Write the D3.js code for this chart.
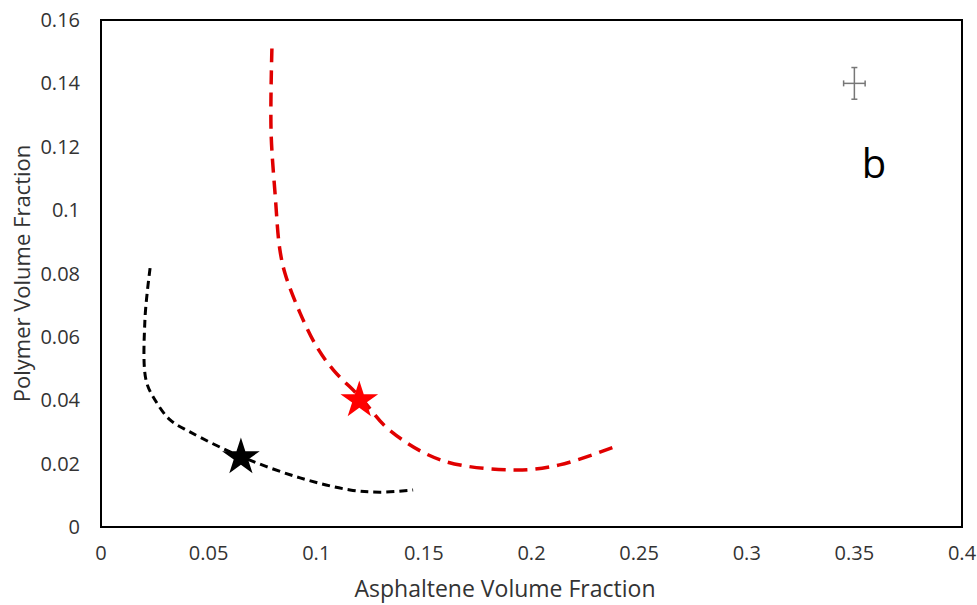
<!DOCTYPE html>
<html>
<head>
<meta charset="utf-8">
<script src="https://cdn.jsdelivr.net/npm/d3@7"></script>
<style>
  body { margin: 0; background: #fff; }
  text { font-family: "Open Sans", sans-serif; }
</style>
</head>
<body>
<svg width="977" height="605"></svg>
<script>
// black curve (asphaltene, polymer)
const blackX = [0.0228, 0.0204, 0.0209, 0.0251, 0.0321, 0.0413, 0.0655, 0.0925, 0.1157, 0.1296, 0.145];
const blackY = [0.0817, 0.0653, 0.0464, 0.0401, 0.0338, 0.0300, 0.0221, 0.0155, 0.0117, 0.0110, 0.0117];

// red curve
const redX = [0.0794, 0.0790, 0.0810, 0.0830, 0.0855, 0.0925, 0.1003, 0.108, 0.1208, 0.134, 0.158, 0.1923, 0.213, 0.241];
const redY = [0.151, 0.125, 0.104, 0.088, 0.080, 0.0675, 0.0568, 0.0495, 0.0407, 0.0306, 0.0211, 0.018, 0.0196, 0.0259];

// stars
const starX = [0.065, 0.12];
const starY = [0.022, 0.040];
const starColor = ["#000", "#f00"];

// error bar
const errX = 0.35, errY = 0.14, errDx = 0.005, errDy = 0.005;

const xTicks = [0, 0.05, 0.1, 0.15, 0.2, 0.25, 0.3, 0.35, 0.4];
const yTicks = [0, 0.02, 0.04, 0.06, 0.08, 0.1, 0.12, 0.14, 0.16];

let svg = d3.select("svg");
let margin = {left: 101, top: 20, right: 15, bottom: 78};
let width = 977 - margin.left - margin.right,
    height = 605 - margin.top - margin.bottom;

let x = d3.scaleLinear().domain([0, 0.4]).range([margin.left, margin.left + width]);
let y = d3.scaleLinear().domain([0, 0.16]).range([margin.top + height, margin.top]);

// frame
svg.append("rect")
    .attr("x", x(0)).attr("y", y(0.16))
    .attr("width", x(0.4) - x(0)).attr("height", y(0) - y(0.16))
    .attr("fill", "none").attr("stroke", "#000").attr("stroke-width", 2);

// tick labels
svg.selectAll(".xt").data(xTicks).enter().append("text")
    .attr("x", d => x(d)).attr("y", y(0) + 33)
    .attr("text-anchor", "middle").attr("font-size", 20).attr("fill", "#333")
    .text(d => d3.format("")(d));

svg.selectAll(".yt").data(yTicks).enter().append("text")
    .attr("x", 80).attr("y", d => y(d)).attr("dy", "0.35em")
    .attr("text-anchor", "end").attr("font-size", 20).attr("fill", "#333")
    .text(d => d3.format("")(d));

svg.append("text")
    .attr("x", 505).attr("y", 597)
    .attr("text-anchor", "middle").attr("font-size", 23).attr("fill", "#333")
    .text("Asphaltene Volume Fraction");

svg.append("text")
    .attr("transform", "translate(30," + ((y(0) + y(0.16)) / 2) + ")rotate(-90)")
    .attr("text-anchor", "middle").attr("font-size", 22).attr("fill", "#333")
    .text("Polymer Volume Fraction");

let line = d3.line()
    .x(d => x(d[0])).y(d => y(d[1]))
    .curve(d3.curveCatmullRom.alpha(0.5));

svg.append("path")
    .attr("d", line(blackX.map((v, i) => [v, blackY[i]])))
    .attr("fill", "none").attr("stroke", "#000").attr("stroke-width", 3)
    .attr("stroke-dasharray", "8,5");

svg.append("path")
    .attr("d", line(redX.map((v, i) => [v, redY[i]])))
    .attr("fill", "none").attr("stroke", "#e00000").attr("stroke-width", 3.5)
    .attr("stroke-dasharray", "14,8");

// stars
let star = d3.symbol().type(d3.symbolStar).size(440);
svg.selectAll(".star").data(starX).enter().append("path")
    .attr("d", star)
    .attr("transform", (d, i) => "translate(" + x(d) + "," + y(starY[i]) + ")")
    .attr("fill", (d, i) => starColor[i]);

// error cross
let eg = svg.append("g").attr("stroke", "#777").attr("stroke-width", 1.5);
eg.append("line").attr("x1", x(errX - errDx)).attr("x2", x(errX + errDx)).attr("y1", y(errY)).attr("y2", y(errY));
eg.append("line").attr("x1", x(errX)).attr("x2", x(errX)).attr("y1", y(errY - errDy)).attr("y2", y(errY + errDy));
eg.append("line").attr("x1", x(errX - errDx)).attr("x2", x(errX - errDx)).attr("y1", y(errY) - 3).attr("y2", y(errY) + 3);
eg.append("line").attr("x1", x(errX + errDx)).attr("x2", x(errX + errDx)).attr("y1", y(errY) - 3).attr("y2", y(errY) + 3);
eg.append("line").attr("x1", x(errX) - 3).attr("x2", x(errX) + 3).attr("y1", y(errY - errDy)).attr("y2", y(errY - errDy));
eg.append("line").attr("x1", x(errX) - 3).attr("x2", x(errX) + 3).attr("y1", y(errY + errDy)).attr("y2", y(errY + errDy));

svg.append("text")
    .attr("x", 874).attr("y", 178)
    .attr("text-anchor", "middle").attr("font-size", 40)
    .attr("font-family", "'Liberation Sans', Arial, sans-serif").attr("fill", "#000")
    .text("b");
</script>
</body>
</html>
